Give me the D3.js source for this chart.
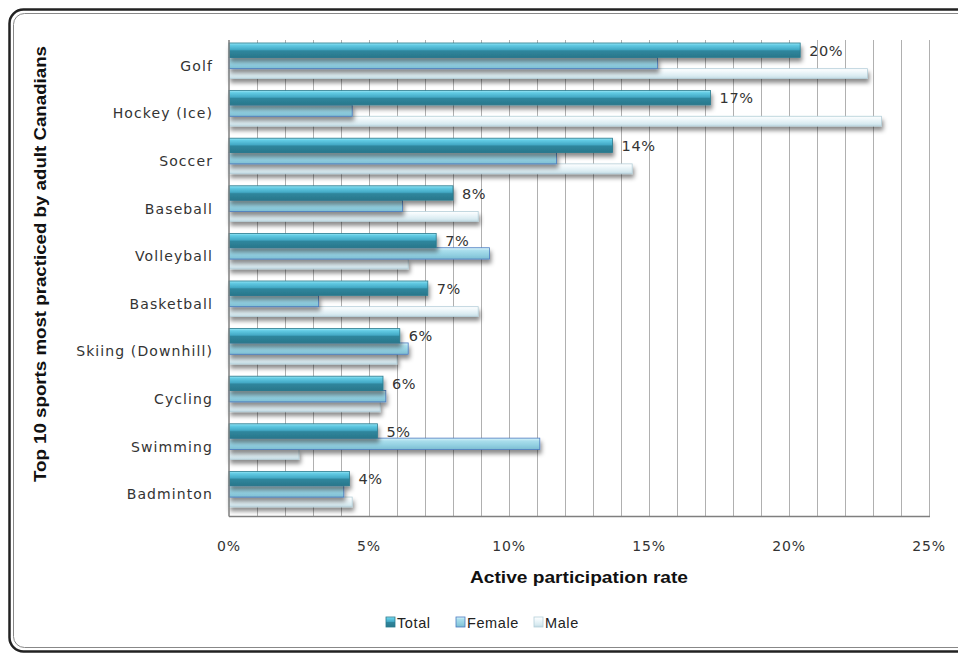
<!DOCTYPE html>
<html>
<head>
<meta charset="utf-8">
<script src="https://cdn.jsdelivr.net/npm/d3@7"></script>
<style>
  body { margin: 0; background: #fff; }
  svg { display: block; font-family: "DejaVu Sans", sans-serif; }
</style>
</head>
<body>
<svg width="958" height="654"></svg>
<script>
  // data (percent)
  var sports = ['Golf', 'Hockey (Ice)', 'Soccer', 'Baseball', 'Volleyball', 'Basketball',
    'Skiing (Downhill)', 'Cycling', 'Swimming', 'Badminton'];
  var total = [20.4, 17.2, 13.7, 8.0, 7.4, 7.1, 6.1, 5.5, 5.3, 4.3];
  var female = [15.3, 4.4, 11.7, 6.2, 9.3, 3.2, 6.4, 5.6, 11.1, 4.1];
  var male = [22.8, 23.3, 14.4, 8.9, 6.4, 8.9, 6.0, 5.4, 2.5, 4.4];
  var totalLabels = ['20%', '17%', '14%', '8%', '7%', '7%', '6%', '6%', '5%', '4%'];
  var seriesNames = ['Total', 'Female', 'Male'];
  var xTicks = [0, 5, 10, 15, 20, 25];

  var svg = d3.select('svg');
  var margin = {left: 229, right: 29, top: 40, bottom: 138};
  var W = 958, H = 654;

  var x = d3.scaleLinear().domain([0, 25]).range([margin.left, W - margin.right]);
  var y = d3.scaleBand().domain(sports).range([margin.top, H - margin.bottom]);
  var ySub = d3.scaleBand().domain(seriesNames).range([6, 40]);
  var grow = {Total: 3, Female: 0, Male: -1.5}; // total bar looks thicker (bevel)

  var defs = svg.append('defs');
  function grad(id, stops) {
    var g = defs.append('linearGradient').attr('id', id)
      .attr('x1', 0).attr('y1', 0).attr('x2', 0).attr('y2', 1);
    stops.forEach(function (s) {
      g.append('stop').attr('offset', s[0]).attr('stop-color', s[1]);
    });
  }
  grad('gTotal', [[0, '#9be6f5'], [0.15, '#62cbe4'], [0.45, '#44aac6'], [0.55, '#2f869d'], [1, '#2a778b']]);
  grad('gFemale', [[0, '#dcf5fb'], [0.25, '#a9deec'], [0.7, '#8ecddf'], [1, '#7dbcd0']]);
  grad('gMale', [[0, '#ffffff'], [0.3, '#f0f8fb'], [0.75, '#d9ebf1'], [1, '#c2dae3']]);
  var fills = {Total: 'url(#gTotal)', Female: 'url(#gFemale)', Male: 'url(#gMale)'};
  var strokes = {Total: '#2a7a8e', Female: '#4a7cc0', Male: '#b5cfd9'};
  var values = {Total: total, Female: female, Male: male};

  var f = defs.append('filter').attr('id', 'shadow')
    .attr('x', '-5%').attr('y', '-40%').attr('width', '115%').attr('height', '250%');
  f.append('feDropShadow').attr('dx', 1.5).attr('dy', 4).attr('stdDeviation', 2.2)
    .attr('flood-color', '#000').attr('flood-opacity', 0.45);

  // frame (right and bottom run off the picture)
  svg.append('rect').attr('x', 9.5).attr('y', 9.5).attr('width', 1000).attr('height', 642)
    .attr('rx', 14).attr('fill', 'none').attr('stroke', '#222').attr('stroke-width', 2.5);
  svg.append('rect').attr('x', 13.5).attr('y', 13.5).attr('width', 1000).attr('height', 634)
    .attr('rx', 11).attr('fill', 'none').attr('stroke', '#888').attr('stroke-width', 1);

  // gridlines every 1%
  svg.append('g').selectAll('line').data(d3.range(1, 26))
    .enter().append('line')
    .attr('x1', function (d) { return x(d) + 0.5; })
    .attr('x2', function (d) { return x(d) + 0.5; })
    .attr('y1', margin.top).attr('y2', H - margin.bottom)
    .attr('stroke', '#b0b0b0').attr('stroke-width', 1);

  // bars
  var groups = svg.append('g').selectAll('g').data(sports)
    .enter().append('g')
    .attr('transform', function (d) { return 'translate(0,' + y(d) + ')'; });

  seriesNames.slice().reverse().forEach(function (s) {
    groups.append('rect')
      .attr('x', x(0))
      .attr('y', ySub(s) - (s === 'Total' ? grow[s] : 0))
      .attr('height', ySub.bandwidth() + grow[s])
      .attr('width', function (d, i) { return x(values[s][i]) - x(0); })
      .attr('fill', fills[s])
      .attr('stroke', strokes[s])
      .attr('stroke-width', 0.8)
      .attr('filter', 'url(#shadow)');
  });

  // data labels for total
  groups.append('text')
    .attr('x', function (d, i) { return x(total[i]) + 9; })
    .attr('y', ySub('Total') + ySub.bandwidth() / 2 - 1)
    .attr('dy', '0.36em')
    .attr('font-size', 14.5)
    .attr('fill', '#333')
    .attr('letter-spacing', 0.6)
    .text(function (d, i) { return totalLabels[i]; });

  // axes lines
  svg.append('line').attr('x1', x(0)).attr('x2', x(0))
    .attr('y1', margin.top).attr('y2', H - margin.bottom + 0.5)
    .attr('stroke', '#7f7f7f').attr('stroke-width', 1.5);
  svg.append('line').attr('x1', x(0)).attr('x2', x(25) + 1)
    .attr('y1', H - margin.bottom + 0.5).attr('y2', H - margin.bottom + 0.5)
    .attr('stroke', '#7f7f7f').attr('stroke-width', 1.5);

  // category labels
  svg.append('g').selectAll('text').data(sports)
    .enter().append('text')
    .attr('x', 213)
    .attr('y', function (d) { return y(d) + y.bandwidth() / 2 + 2; })
    .attr('dy', '0.36em')
    .attr('text-anchor', 'end')
    .attr('font-size', 14)
    .attr('letter-spacing', 1.1)
    .attr('fill', '#333')
    .text(function (d) { return d; });

  // x tick labels
  svg.append('g').selectAll('text').data(xTicks)
    .enter().append('text')
    .attr('x', function (d) { return x(d); })
    .attr('y', 551)
    .attr('text-anchor', 'middle')
    .attr('font-size', 14)
    .attr('letter-spacing', 0.8)
    .attr('fill', '#333')
    .text(function (d) { return d + '%'; });

  svg.append('text')
    .attr('x', 579).attr('y', 583)
    .attr('text-anchor', 'middle')
    .style('font-family', '"Liberation Sans", sans-serif')
    .attr('font-weight', 'bold')
    .attr('font-size', 16)
    .attr('textLength', 218)
    .attr('lengthAdjust', 'spacingAndGlyphs')
    .attr('fill', '#111')
    .text('Active participation rate');

  svg.append('text')
    .attr('transform', 'translate(46,264) rotate(-90)')
    .attr('text-anchor', 'middle')
    .style('font-family', '"Liberation Sans", sans-serif')
    .attr('font-weight', 'bold')
    .attr('font-size', 16.5)
    .attr('textLength', 436)
    .attr('lengthAdjust', 'spacingAndGlyphs')
    .attr('fill', '#111')
    .text('Top 10 sports most practiced  by adult Canadians');

  // legend
  var legendX = [386, 456, 534];
  var leg = svg.append('g').selectAll('g').data(seriesNames)
    .enter().append('g')
    .attr('transform', function (d, i) { return 'translate(' + legendX[i] + ',617)'; });
  leg.append('rect').attr('width', 9).attr('height', 10)
    .attr('fill', function (d) { return fills[d]; })
    .attr('stroke', function (d) { return strokes[d]; }).attr('stroke-width', 0.8);
  leg.append('text').attr('x', 11).attr('y', 10.5)
    .attr('font-size', 14.5).attr('fill', '#222')
    .style('font-family', '"Liberation Sans", sans-serif')
    .attr('letter-spacing', 0.6)
    .text(function (d) { return d; });
</script>
</body>
</html>
